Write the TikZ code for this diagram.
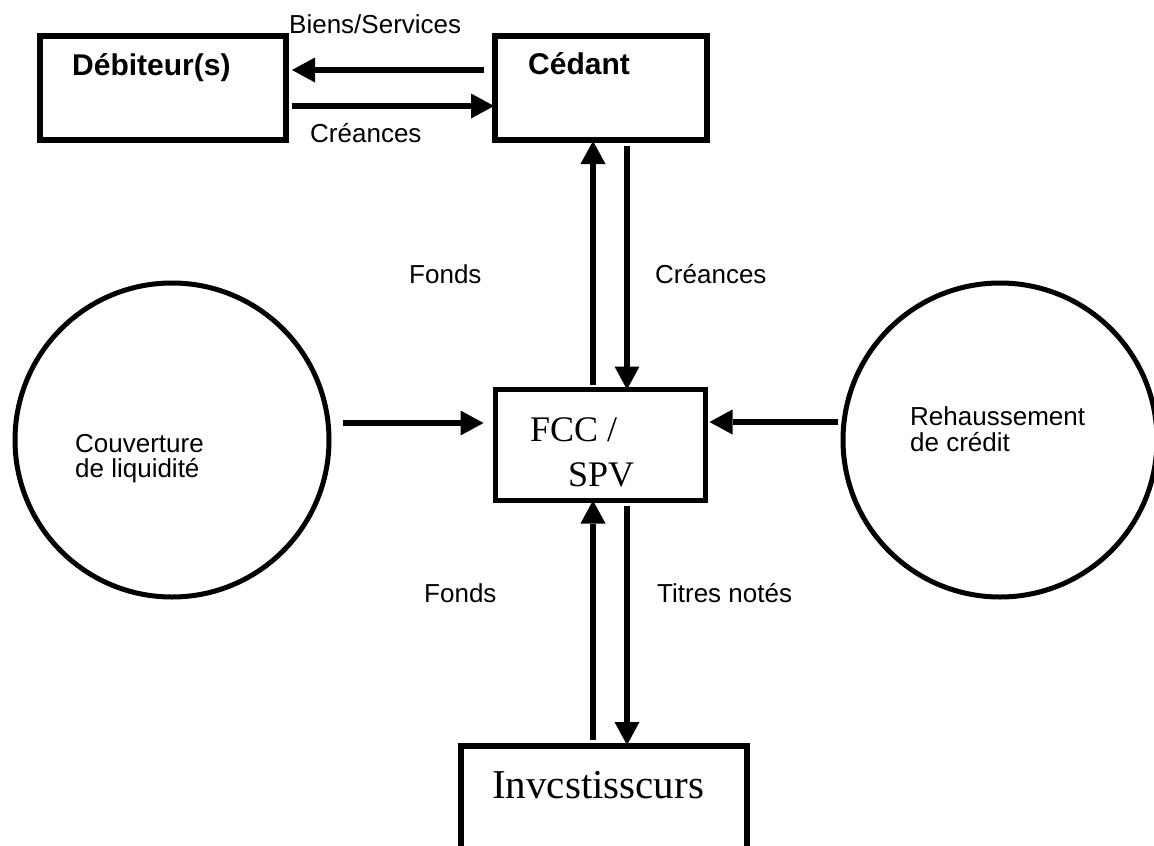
\documentclass[tikz,border=0pt]{standalone}
\usepackage{fontspec}
\setmainfont{Liberation Sans}
\newfontfamily\tnr{Liberation Serif}
\usetikzlibrary{arrows.meta,calc}
\begin{document}
\begin{tikzpicture}[x=1pt,y=-1pt,
  box/.style={draw,line width=6pt,inner sep=0pt},
  circ/.style={draw,circle,line width=5pt,minimum size=314pt,inner sep=0pt},
  flow/.style={line width=6pt,-{Triangle[length=23pt,width=25pt,line width=0pt]}},
  lab/.style={font=\fontsize{26}{27}\selectfont,inner sep=0pt,anchor=base west},
  btitle/.style={font=\fontsize{30}{32}\selectfont\bfseries,inner sep=0pt,anchor=base west},
  serif/.style={inner sep=0pt,anchor=base west}]
\useasboundingbox[fill=white] (0,0) rectangle (1154,846);
% boxes and circles
\node[box,minimum width=246pt,minimum height=104pt] (deb) at (163,88) {};
\node[box,minimum width=212pt,minimum height=104pt] (ced) at (601,88) {};
\node[box,line width=5pt,minimum width=210pt,minimum height=111pt] (fcc) at (600.5,445) {};
\node[box,minimum width=286pt,minimum height=120pt] (inv) at (604,806) {};
\node[circ] (liq) at (172,440) {};
\node[circ] (reh) at (1000,440) {};
% texts in shapes
\node[btitle] (tdeb) at (72,75) {Débiteur(s)};
\node[btitle] (tced) at (528,74) {Cédant};
\node[serif,font=\tnr\fontsize{36}{38}\selectfont] (tfcc) at (530,441) {FCC /};
\node[serif,font=\tnr\fontsize{36}{38}\selectfont] (tspv) at (568,486) {SPV};
\node[serif,font=\tnr\fontsize{41}{44}\selectfont] (tinv) at (492,798) {Invcstisscurs};
\node[lab] (tliq1) at (75,452) {Couverture};
\node[lab] (tliq2) at (75,477) {de liquidité};
\node[lab] (treh1) at (910,425) {Rehaussement};
\node[lab] (treh2) at (910,451) {de crédit};
% connector labels
\node[lab] (lbiens) at (289,33) {Biens/Services};
\node[lab] (lcre1) at (310,142) {Créances};
\node[lab] (lfonds1) at (409,283) {Fonds};
\node[lab] (lcre2) at (655,283) {Créances};
\node[lab] (lfonds2) at (424,602) {Fonds};
\node[lab] (ltitres) at (657,602) {Titres notés};
% connectors
\draw[flow] ($(ced.west)+(-8,-18)$) -- ($(deb.east)+(3,-18)$);
\draw[flow] ($(deb.east)+(3,18)$) -- ($(ced.west)+(2,18)$);
\draw[flow] ($(fcc.north)+(-7.5,-2.5)$) -- ($(ced.south)+(-8,-2)$);
\draw[flow] ($(ced.south)+(26,3)$) -- ($(fcc.north)+(26.5,2.5)$);
\draw[flow] ($(liq.east)+(11,-17)$) -- ($(fcc.west)+(-9.5,-22)$);
\draw[flow] ($(reh.west)+(-3,-18)$) -- ($(fcc.east)+(1.5,-23)$);
\draw[flow] ($(inv.north)+(-11,-3)$) -- ($(fcc.south)+(-7.5,-2.5)$);
\draw[flow] ($(fcc.south)+(26.5,2.5)$) -- ($(inv.north)+(23,2)$);
\end{tikzpicture}
\end{document}
